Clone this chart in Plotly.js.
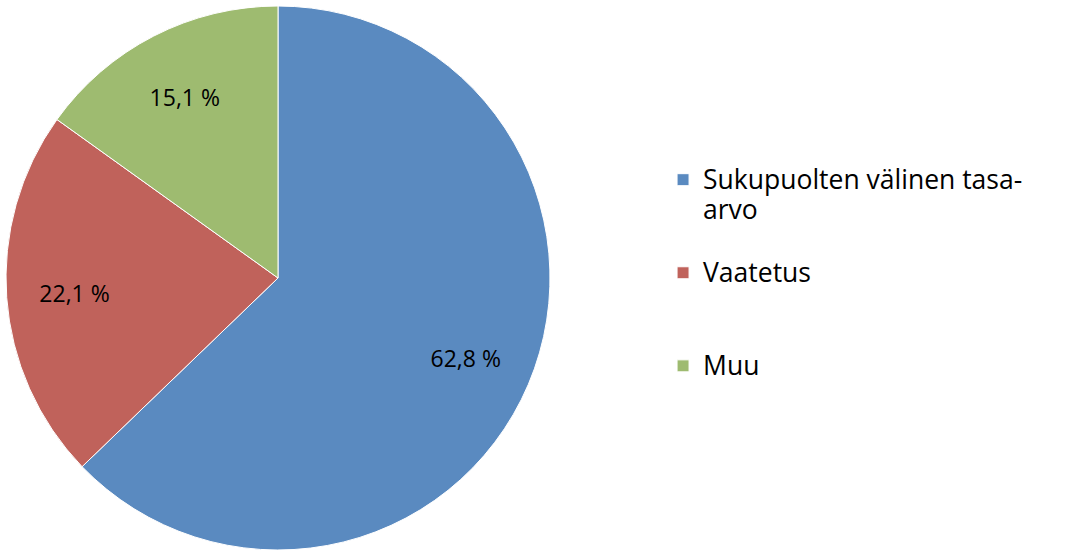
<!DOCTYPE html>
<html>
<head>
<meta charset="utf-8">
<script src="https://cdn.plot.ly/plotly-3.0.1.min.js"></script>
<style>html,body{margin:0;padding:0;background:#fff;}#chart{width:1066px;height:553px;}</style>
</head>
<body>
<div id="chart"></div>
<script>
// Data
const categories = ["Sukupuolten välinen tasa-arvo", "Vaatetus", "Muu"];
const legendLines = [["Sukupuolten välinen tasa-", "arvo", " "], ["Vaatetus", " ", " "], ["Muu"]];
const values = [62.8, 22.1, 15.1];
const colors = ["#5A8AC0", "#C0625B", "#9EBB70"];

const legendNames = legendLines.map(lines =>
  lines.map(s => '<span style="font-size:26.5px">' + s + '</span>').join("<br>"));

const dom = {x: [6/1066, 550/1066], y: [3/553, 547/553]};

// Main pie (slices + legend)
const pie = {
  type: "pie",
  labels: legendNames,
  values: values,
  sort: false,
  direction: "clockwise",
  rotation: 0,
  marker: {colors: colors, line: {color: "#ffffff", width: 1}},
  textinfo: "none",
  hoverinfo: "none",
  domain: dom
};

// Transparent ring overlay used only to place the data labels
const labelsRing = {
  type: "pie",
  labels: legendNames,
  values: values,
  sort: false,
  direction: "clockwise",
  rotation: 0,
  hole: 0.5,
  showlegend: false,
  marker: {colors: ["rgba(0,0,0,0)", "rgba(0,0,0,0)", "rgba(0,0,0,0)"], line: {width: 0}},
  texttemplate: "%{value:.1f} %",
  textposition: "inside",
  insidetextorientation: "horizontal",
  textfont: {family: "'Open Sans', sans-serif", size: 23, color: "#000000"},
  hoverinfo: "none",
  domain: dom
};

const layout = {
  width: 1066, height: 553,
  margin: {l: 0, r: 0, t: 0, b: 0},
  paper_bgcolor: "#ffffff",
  separators: ", ",
  showlegend: true,
  legend: {
    x: 0.622, xanchor: "left", y: 0.714, yanchor: "top",
    font: {family: "'Open Sans', sans-serif", size: 23.1, color: "#000000"},
    valign: "top",
    traceorder: "normal"
  }
};

Plotly.newPlot("chart", [pie, labelsRing], layout, {displayModeBar: false, staticPlot: true});
</script>
</body>
</html>
